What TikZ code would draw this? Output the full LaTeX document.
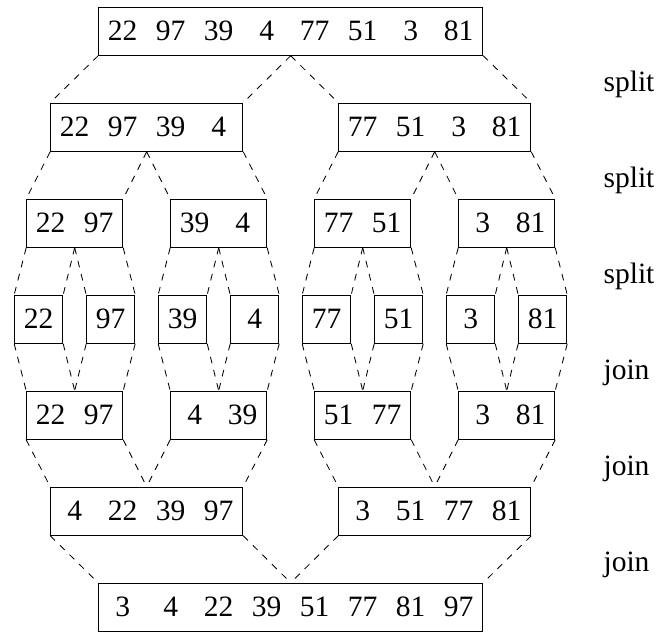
\documentclass[tikz,border=0pt]{standalone}
\usepackage{fontspec}
\setmainfont{Liberation Serif}
\usepackage{tikz}
\tikzset{
	numbox/.style={draw, line width=0.6pt, minimum height=1cm, inner sep=0pt, font=\fontsize{17.5}{21}\selectfont},
	mergeline/.style={line width=0.5pt, dash pattern=on 4pt off 4pt},
	steplabel/.style={anchor=base west, inner sep=0pt, font=\fontsize{17.5}{21}\selectfont},
}
\newcommand{\numcell}[1]{\makebox[1cm]{#1}}
% parent, left child, right child
\newcommand{\splitto}[3]{%
	\draw[mergeline] (#1.south west) -- (#2.north west);
	\draw[mergeline] (#1.south) -- (#2.north east);
	\draw[mergeline] (#1.south) -- (#3.north west);
	\draw[mergeline] (#1.south east) -- (#3.north east);
}
% left part, right part, merged box
\newcommand{\jointo}[3]{%
	\draw[mergeline] (#1.south west) -- (#3.north west);
	\draw[mergeline] (#1.south east) -- (#3.north);
	\draw[mergeline] (#2.south west) -- (#3.north);
	\draw[mergeline] (#2.south east) -- (#3.north east);
}

\begin{document}
\begin{tikzpicture}
	\useasboundingbox (-0.306,0.65) rectangle (13.36,-12.496);

	% Input
	\node[numbox] (in) at (5.75,0) {\numcell{22}\numcell{97}\numcell{39}\numcell{4}\numcell{77}\numcell{51}\numcell{3}\numcell{81}};

	% Split into halves
	\node[numbox] (sa) at (2.75,-2) {\numcell{22}\numcell{97}\numcell{39}\numcell{4}};
	\node[numbox] (sb) at (8.75,-2) {\numcell{77}\numcell{51}\numcell{3}\numcell{81}};

	% Split into pairs
	\node[numbox] (saa) at (1.25,-4) {\numcell{22}\numcell{97}};
	\node[numbox] (sab) at (4.25,-4) {\numcell{39}\numcell{4}};
	\node[numbox] (sba) at (7.25,-4) {\numcell{77}\numcell{51}};
	\node[numbox] (sbb) at (10.25,-4) {\numcell{3}\numcell{81}};

	% Single elements
	\node[numbox] (e1) at (0.5,-6) {\numcell{22}};
	\node[numbox] (e2) at (2,-6) {\numcell{97}};
	\node[numbox] (e3) at (3.5,-6) {\numcell{39}};
	\node[numbox] (e4) at (5,-6) {\numcell{4}};
	\node[numbox] (e5) at (6.5,-6) {\numcell{77}};
	\node[numbox] (e6) at (8,-6) {\numcell{51}};
	\node[numbox] (e7) at (9.5,-6) {\numcell{3}};
	\node[numbox] (e8) at (11,-6) {\numcell{81}};

	% Sorted pairs
	\node[numbox] (jaa) at (1.25,-8) {\numcell{22}\numcell{97}};
	\node[numbox] (jab) at (4.25,-8) {\numcell{4}\numcell{39}};
	\node[numbox] (jba) at (7.25,-8) {\numcell{51}\numcell{77}};
	\node[numbox] (jbb) at (10.25,-8) {\numcell{3}\numcell{81}};

	% Sorted halves
	\node[numbox] (ja) at (2.75,-10) {\numcell{4}\numcell{22}\numcell{39}\numcell{97}};
	\node[numbox] (jb) at (8.75,-10) {\numcell{3}\numcell{51}\numcell{77}\numcell{81}};

	% Output
	\node[numbox] (out) at (5.75,-12) {\numcell{3}\numcell{4}\numcell{22}\numcell{39}\numcell{51}\numcell{77}\numcell{81}\numcell{97}};

	% Dashed connectors
	\splitto{in}{sa}{sb}
	\splitto{sa}{saa}{sab}
	\splitto{sb}{sba}{sbb}
	\splitto{saa}{e1}{e2}
	\splitto{sab}{e3}{e4}
	\splitto{sba}{e5}{e6}
	\splitto{sbb}{e7}{e8}
	\jointo{e1}{e2}{jaa}
	\jointo{e3}{e4}{jab}
	\jointo{e5}{e6}{jba}
	\jointo{e7}{e8}{jbb}
	\jointo{jaa}{jab}{ja}
	\jointo{jba}{jbb}{jb}
	\jointo{ja}{jb}{out}

	% Step labels
	\node[steplabel] (l1) at (12.26,-1.25) {split};
	\node[steplabel] (l2) at (12.26,-3.25) {split};
	\node[steplabel] (l3) at (12.26,-5.25) {split};
	\node[steplabel] (l4) at (12.26,-7.25) {join};
	\node[steplabel] (l5) at (12.26,-9.25) {join};
	\node[steplabel] (l6) at (12.26,-11.25) {join};
\end{tikzpicture}
\end{document}
